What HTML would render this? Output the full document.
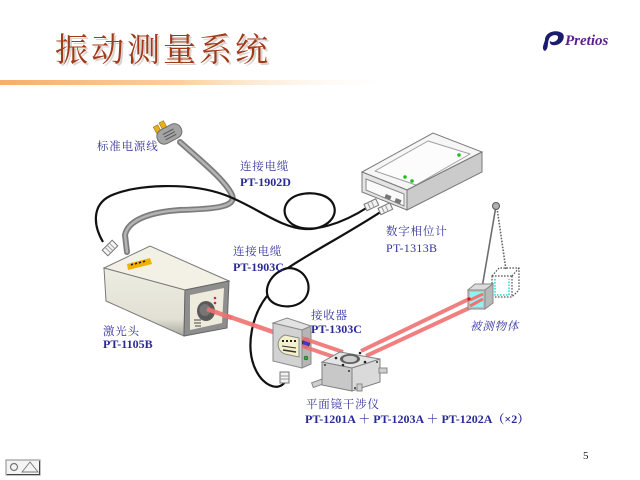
<!DOCTYPE html>
<html><head><meta charset="utf-8">
<style>
html,body{margin:0;padding:0;background:#fff;}
svg{display:block;}
.cn{font-family:"Liberation Serif","Noto Serif CJK SC",serif;font-size:11.5px;fill:#35359e;letter-spacing:0.8px;}
.pt{font-family:"Liberation Serif","Noto Serif CJK SC",serif;font-size:12px;font-weight:bold;fill:#2a2a96;}
</style></head><body>
<svg width="640" height="480" viewBox="0 0 640 480" xmlns="http://www.w3.org/2000/svg">
<defs>
<linearGradient id="og" x1="0" x2="1" y1="0" y2="0">
<stop offset="0" stop-color="#f7ae68"/><stop offset="0.45" stop-color="#fbcf9e"/><stop offset="1" stop-color="#ffffff" stop-opacity="0"/>
</linearGradient>
<linearGradient id="lf" x1="0" x2="0" y1="0" y2="1">
<stop offset="0" stop-color="#eeede2"/><stop offset="0.75" stop-color="#e2e0d4"/><stop offset="1" stop-color="#a9a8a0"/>
</linearGradient>
</defs>
<rect width="640" height="480" fill="#fff"/>

<!-- header -->
<rect x="0" y="80" width="400" height="5" fill="url(#og)"/>
<text x="57" y="63" font-family="Noto Serif CJK SC, serif" font-size="33" fill="#b9b0a8" opacity="0.55" letter-spacing="3">振动测量系统</text>
<text x="55" y="61" font-family="Noto Serif CJK SC, serif" font-size="33" fill="#a23a1a" letter-spacing="3">振动测量系统</text>

<!-- logo -->
<path d="M545,40 C545,32 556,29 562,33 C566,36 563,44 556,45 C552,46 549,44 550,41 C552,43 557,42 558,38 C559,34 551,34 549,39 C547,44 549,48 545,51 C541,49 544,44 545,40 Z" fill="#1c1c6e"/>
<text x="565" y="45" font-family="Liberation Serif, serif" font-size="15" font-style="italic" font-weight="bold" fill="#5b1f8a">Pretios</text>

<!-- gray power cable -->
<path d="M180,142 C200,160 225,180 232,195 C237,207 215,209 180,210 C150,212 128,220 125,235 L127,252" fill="none" stroke="#7d7d7d" stroke-width="6" stroke-linecap="round"/>
<path d="M180,142 C200,160 225,180 232,195 C237,207 215,209 180,210 C150,212 128,220 125,235 L127,252" fill="none" stroke="#b4b4b4" stroke-width="2.5" stroke-linecap="round"/>
<!-- plug -->
<g transform="rotate(-28 170 133)">
<rect x="158" y="120" width="5" height="7" fill="#e8b020" stroke="#a07000" stroke-width="0.6"/>
<rect x="165" y="119" width="5" height="8" fill="#e8b020" stroke="#a07000" stroke-width="0.6"/>
<rect x="156" y="126" width="26" height="15" rx="7" fill="#a4a4a4" stroke="#6e6e6e"/>
<line x1="163" y1="131" x2="175" y2="131" stroke="#555" stroke-width="1"/>
<line x1="163" y1="134" x2="175" y2="134" stroke="#555" stroke-width="1"/>
<line x1="163" y1="137" x2="175" y2="137" stroke="#555" stroke-width="1"/>
</g>

<!-- black cable PT-1902D -->
<path d="M103,242 C93,225 92,205 110,196 C135,184 190,182 225,195 C255,206 280,228 305,229 C325,230 338,218 334,206 C330,194 312,191 298,195 C283,200 280,215 292,224 C310,236 345,222 368,207" fill="none" stroke="#111" stroke-width="2.2"/>
<!-- black cable PT-1903C -->
<path d="M382,211 C350,232 305,256 288,268 C305,268 313,285 306,297 C299,309 278,309 270,300 C262,291 270,272 288,268" fill="none" stroke="#111" stroke-width="2.2"/>
<path d="M267,296 C252,315 246,345 254,366 C262,386 278,392 285,382" fill="none" stroke="#111" stroke-width="2.2"/>

<!-- connectors -->
<g transform="rotate(-45 110 248)">
<rect x="103" y="244" width="14" height="8" fill="#f4f4f4" stroke="#777"/>
<line x1="107" y1="244" x2="107" y2="252" stroke="#999"/>
<line x1="110" y1="244" x2="110" y2="252" stroke="#999"/>
<line x1="113" y1="244" x2="113" y2="252" stroke="#999"/>
</g>
<g transform="rotate(-25 372 205)">
<rect x="365" y="201" width="13" height="7" fill="#f2f2f2" stroke="#777"/>
<line x1="369" y1="201" x2="369" y2="208" stroke="#999"/>
<line x1="373" y1="201" x2="373" y2="208" stroke="#999"/>
</g>
<g transform="rotate(-25 386 209)">
<rect x="379" y="205" width="13" height="7" fill="#f2f2f2" stroke="#777"/>
<line x1="383" y1="205" x2="383" y2="212" stroke="#999"/>
<line x1="387" y1="205" x2="387" y2="212" stroke="#999"/>
</g>
<rect x="280" y="372" width="9" height="11" fill="#f2f2f2" stroke="#777"/>
<line x1="280" y1="376" x2="289" y2="376" stroke="#999"/>
<line x1="280" y1="379" x2="289" y2="379" stroke="#999"/>

<!-- phase meter -->
<polygon points="362,172 433,133 482,152 407,190" fill="#f6f6f6" stroke="#7a7a7a"/>
<polygon points="375,171 428,141 470,154 416,185" fill="#fcfcfc" stroke="#a0a0a0" stroke-linejoin="round"/>
<polygon points="362,172 407,190 407,210 362,192" fill="#e4e4e4" stroke="#7a7a7a"/>
<polygon points="366,179 404,194 404,206 366,190" fill="#fafafa" stroke="#8a8a8a"/>
<polygon points="407,190 482,152 482,172 407,210" fill="#cbcbcb" stroke="#7a7a7a"/>
<rect x="385" y="195" width="6" height="4" fill="#777" transform="rotate(22 388 197)"/>
<rect x="395" y="199" width="6" height="4" fill="#777" transform="rotate(22 398 201)"/>
<circle cx="405" cy="177" r="1.8" fill="#22bb22"/>
<circle cx="412" cy="181" r="1.8" fill="#22bb22"/>
<circle cx="459" cy="155" r="1.8" fill="#22bb22"/>

<!-- laser beam laser->receiver -->
<line x1="207" y1="309" x2="305" y2="343" stroke="#f07272" stroke-width="4.5" opacity="0.9"/>

<!-- laser head -->
<polygon points="104,268 150,246 229,281 185,290" fill="#f3f1e6" stroke="#7a7a7a"/>
<polygon points="104,268 185,290 184,336 106,301" fill="url(#lf)" stroke="#7a7a7a"/>
<polygon points="185,290 229,281 227,328 184,336" fill="#8e8e8e" stroke="#666"/>
<polygon points="190,295 224,288 222,323 190,330" fill="#efebdc"/>
<polygon points="127,264 150,258 152,264 128,270" fill="#f2b000"/>
<path d="M131,265 l2,-1 m2,0 l2,-1 m2,0 l2,-1 m2,0 l2,-1" stroke="#222" stroke-width="1.6"/>
<ellipse cx="206" cy="311" rx="9" ry="10" fill="#5a5a5a"/>
<ellipse cx="205" cy="310" rx="5.5" ry="6" fill="#767676"/>
<circle cx="215" cy="298" r="1.3" fill="#b03070"/>
<circle cx="215" cy="303" r="1.3" fill="#b03070"/>
<path d="M194,320 h7 M194,323 h7 M195,326 h6" stroke="#444" stroke-width="1"/>
<line x1="207" y1="309" x2="232" y2="318" stroke="#f07272" stroke-width="4.5" opacity="0.9"/>

<!-- receiver -->
<polygon points="273,323 287,318 311,326 302,330" fill="#e2e2e2" stroke="#8a8a8a"/>
<polygon points="273,323 302,330 302,368 273,361" fill="#d2d2d2" stroke="#8a8a8a"/>
<polygon points="302,330 311,326 311,364 302,368" fill="#b5b5b5" stroke="#8a8a8a"/>
<path d="M285,335 L299,338 L299,357 L285,354 A10,10 0 0 1 285,335 Z" fill="#f4efcc" stroke="#8a8a8a"/>
<path d="M282,341 h2 m2,0 h2 m2,0 h2 m2,0 h2" stroke="#222" stroke-width="2"/>
<line x1="282" y1="346" x2="296" y2="348" stroke="#333"/>
<line x1="283" y1="350" x2="296" y2="352" stroke="#333" stroke-width="1.5"/>
<ellipse cx="306" cy="343" rx="3.5" ry="5" fill="#3a3ac4" stroke="#222" stroke-width="0.8"/>
<circle cx="306" cy="358" r="2" fill="#22bb22" stroke="#333" stroke-width="0.5"/>

<!-- beams receiver->interferometer and ->target -->
<line x1="302" y1="338" x2="343" y2="352" stroke="#f07272" stroke-width="4" opacity="0.9"/>
<line x1="302" y1="346" x2="340" y2="359" stroke="#f07272" stroke-width="4" opacity="0.9"/>
<line x1="361" y1="351" x2="469" y2="299" stroke="#f07272" stroke-width="4" opacity="0.9"/>
<line x1="366" y1="356" x2="480" y2="303" stroke="#f07272" stroke-width="4" opacity="0.9"/>

<!-- interferometer -->
<rect x="312" y="381" width="11" height="5" fill="#cfcfcf" stroke="#888" transform="rotate(-20 317 383)"/>
<polygon points="322,362 340,352 380,359 352,368" fill="#e4e4e4" stroke="#808080"/>
<polygon points="322,362 352,368 352,391 322,385" fill="#c8c8c8" stroke="#808080"/>
<polygon points="352,368 380,359 380,382 352,391" fill="#dadada" stroke="#808080"/>
<ellipse cx="350" cy="359" rx="10" ry="5" fill="#5e5e5e"/>
<ellipse cx="350" cy="359" rx="7" ry="3.3" fill="#cdcdcd"/>
<circle cx="336" cy="358" r="1.3" fill="#222"/>
<circle cx="360" cy="353" r="1.3" fill="#222"/>
<circle cx="365" cy="362" r="1.3" fill="#222"/>
<circle cx="343" cy="365" r="1.3" fill="#222"/>
<circle cx="325" cy="365" r="1" fill="#333"/>
<circle cx="349" cy="371" r="1" fill="#333"/>
<circle cx="377" cy="362" r="1" fill="#333"/>
<circle cx="355" cy="388" r="1" fill="#333"/>
<rect x="379" y="368" width="8" height="5" fill="#cfcfcf" stroke="#888"/>
<rect x="357" y="384" width="5" height="7" fill="#cfcfcf" stroke="#888"/>

<!-- pendulum & target -->
<line x1="497" y1="208" x2="506" y2="270" stroke="#666" stroke-width="1.6" stroke-dasharray="1.6,1.4"/>
<polygon points="492,276 499,268 519,268 519,290 512,297 492,297" fill="none" stroke="#555" stroke-width="1.2" stroke-dasharray="1.6,1.4"/>
<line x1="492" y1="276" x2="512" y2="276" stroke="#555" stroke-width="1.2" stroke-dasharray="1.6,1.4"/>
<line x1="512" y1="276" x2="519" y2="268" stroke="#555" stroke-width="1.2" stroke-dasharray="1.6,1.4"/>
<line x1="512" y1="276" x2="512" y2="297" stroke="#555" stroke-width="1.2" stroke-dasharray="1.6,1.4"/>
<path d="M495,279 V295 H509 V279" fill="none" stroke="#22dddd" stroke-width="1.5" stroke-dasharray="1.6,1.4"/>
<line x1="496" y1="206" x2="482" y2="288" stroke="#6e6e6e" stroke-width="1.6"/>
<circle cx="496" cy="206" r="3.5" fill="#b0b0b0" stroke="#555"/>
<polygon points="468,290 475,284 493,284 485,290" fill="#dcdcdc" stroke="#888"/>
<polygon points="485,290 493,284 493,303 485,309" fill="#b8b8b8" stroke="#888"/>
<rect x="468" y="290" width="17" height="19" fill="#bfbfbf" stroke="#888"/>
<rect x="470" y="292" width="13" height="15" fill="#8ef2f2"/>
<line x1="470" y1="300" x2="483" y2="294" stroke="#f07272" stroke-width="3"/>
<line x1="470" y1="306" x2="483" y2="299" stroke="#f07272" stroke-width="3"/>
<circle cx="469" cy="299" r="1.6" fill="#e01010"/>

<!-- labels -->
<text class="cn" x="97" y="150">标准电源线</text>
<text class="cn" x="240" y="170">连接电缆</text>
<text class="pt" x="240" y="186">PT-1902D</text>
<text class="cn" x="233" y="255">连接电缆</text>
<text class="pt" x="233" y="271">PT-1903C</text>
<text class="cn" x="386" y="235">数字相位计</text>
<text x="386" y="252" font-family="Liberation Serif, serif" font-size="12" fill="#35359e" letter-spacing="0.3">PT-1313B</text>
<text class="cn" x="103" y="335">激光头</text>
<text class="pt" x="103" y="348">PT-1105B</text>
<text class="cn" x="311" y="319">接收器</text>
<text class="pt" x="311" y="333">PT-1303C</text>
<text class="cn" x="470" y="330" font-style="italic">被测物体</text>
<text class="cn" x="306" y="408">平面镜干涉仪</text>
<text class="pt" x="305" y="423">PT-1201A ＋ PT-1203A ＋ PT-1202A（×2）</text>

<!-- page number -->
<text x="583" y="459" font-family="Liberation Serif, serif" font-size="11" fill="#222">5</text>

<!-- bottom-left icon -->
<rect x="6" y="460" width="34" height="15" fill="#f4f4f4" stroke="#888"/>
<line x1="7" y1="474.5" x2="40" y2="474.5" stroke="#444"/>
<line x1="39.5" y1="461" x2="39.5" y2="475" stroke="#444"/>
<circle cx="14" cy="467" r="3.5" fill="none" stroke="#777" stroke-width="1.2"/>
<polygon points="22,472 30,462 38,472" fill="none" stroke="#777" stroke-width="0.9"/>
</svg>
</body></html>
